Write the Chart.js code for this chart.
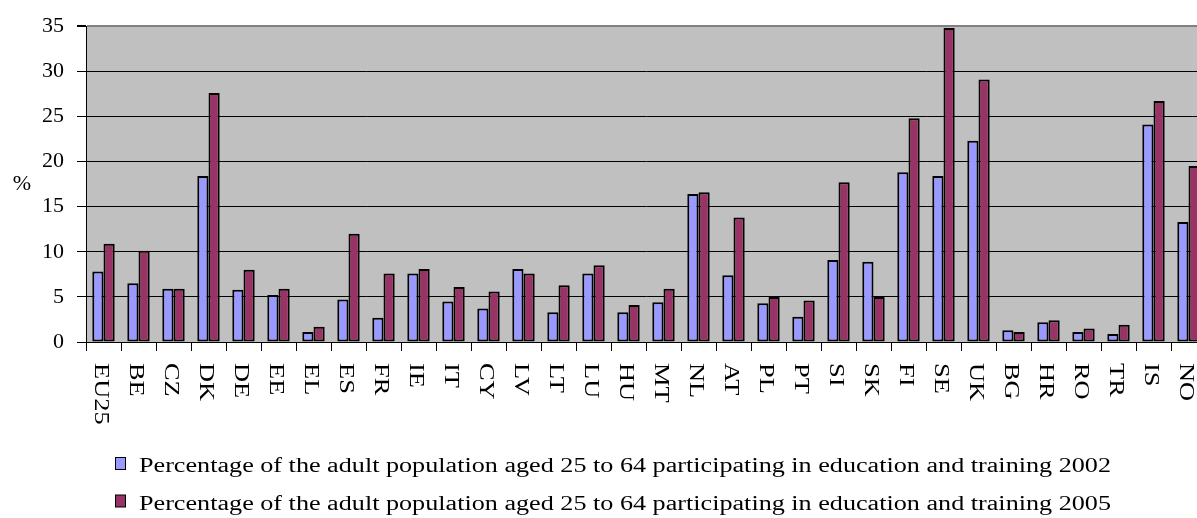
<!DOCTYPE html>
<html>
<head>
<meta charset="utf-8">
<title>Adult participation in education and training</title>
<script src="https://cdn.jsdelivr.net/npm/chart.js@4.4.1/dist/chart.umd.min.js"></script>
<style>
  html, body { margin: 0; padding: 0; background: #ffffff; overflow: hidden; }
  #wrap { position: relative; width: 1210px; height: 518px; }
</style>
</head>
<body>
<div id="wrap"><canvas id="chart"></canvas></div>
<script>
// Country codes along the category axis
const categories = ['EU25', 'BE', 'CZ', 'DK', 'DE', 'EE', 'EL', 'ES', 'FR', 'IE', 'IT', 'CY', 'LV', 'LT', 'LU',
  'HU', 'MT', 'NL', 'AT', 'PL', 'PT', 'SI', 'SK', 'FI', 'SE', 'UK', 'BG', 'HR', 'RO', 'TR', 'IS', 'NO'];

// Share of adults (25-64) in education and training, %
const values2002 = [7.8, 6.5, 5.9, 18.4, 5.8, 5.2, 1.1, 4.7, 2.7, 7.6, 4.5, 3.7, 8.1, 3.3, 7.6,
  3.3, 4.4, 16.4, 7.4, 4.3, 2.8, 9.1, 8.9, 18.8, 18.4, 22.3, 1.3, 2.2, 1.1, 0.9, 24.1, 13.3];
const values2005 = [10.9, 10.1, 5.9, 27.6, 8.0, 5.9, 1.7, 12.0, 7.6, 8.1, 6.1, 5.6, 7.6, 6.3, 8.5,
  4.1, 5.9, 16.6, 13.8, 5.0, 4.6, 17.7, 5.0, 24.8, 34.8, 29.1, 1.1, 2.4, 1.5, 1.9, 26.7, 19.5];

const yTicks = [0, 5, 10, 15, 20, 25, 30, 35];
const seriesNames = [
  'Percentage of the adult population aged 25 to 64 participating in education and training 2002',
  'Percentage of the adult population aged 25 to 64 participating in education and training 2005'
];
const yAxisLabel = '%';

const SERIF = '"Liberation Serif", serif';
const COLOR_2002 = '#9999ff';
const COLOR_2005 = '#993366';

// Grey plot area behind the grid and bars
const plotBackground = {
  id: 'plotBackground',
  beforeDraw(chart) {
    const { ctx, chartArea: a } = chart;
    ctx.save();
    ctx.fillStyle = '#c0c0c0';
    ctx.fillRect(a.left, a.top, a.right - a.left, a.bottom - a.top);
    ctx.restore();
  }
};

// Category names rotated to read top-to-bottom, plus the unrotated "%" axis label
const axisTexts = {
  id: 'axisTexts',
  afterDraw(chart) {
    const { ctx } = chart;
    const x = chart.scales.x;
    const y = chart.scales.y;
    ctx.save();
    ctx.fillStyle = '#000';
    ctx.font = '22px ' + SERIF;
    ctx.textAlign = 'left';
    ctx.textBaseline = 'alphabetic';
    const capH = 14.5;
    categories.forEach((name, i) => {
      const cx = x.getPixelForValue(i) - 1.5;
      ctx.save();
      ctx.translate(cx - capH / 2, x.top + 21);
      ctx.rotate(Math.PI / 2);
      ctx.scale(1.2, 1);
      ctx.fillText(name, 0, 0);
      ctx.restore();
    });

    ctx.textAlign = 'center';
    ctx.textBaseline = 'middle';
    ctx.fillText(yAxisLabel, 22, (y.top + y.bottom) / 2);
    ctx.restore();
  }
};

// Two-row legend below the axis labels
const legendBlock = {
  id: 'legendBlock',
  afterDraw(chart) {
    const { ctx } = chart;
    ctx.save();
    ctx.font = '20px ' + SERIF;
    ctx.textAlign = 'left';
    ctx.textBaseline = 'alphabetic';
    chart.data.datasets.forEach((ds, i) => {
      const baseline = 472 + i * 37.5;
      ctx.fillStyle = ds.backgroundColor;
      ctx.fillRect(115.5, baseline - 14.5, 10, 12);
      ctx.strokeStyle = '#000';
      ctx.lineWidth = 1;
      ctx.strokeRect(115.5, baseline - 14.5, 10, 12);
      const w = ctx.measureText(ds.label).width;
      ctx.save();
      ctx.translate(139, baseline);
      ctx.scale(972 / w, 1);
      ctx.fillStyle = '#000';
      ctx.fillText(ds.label, 0, 0);
      ctx.restore();
    });
    ctx.restore();
  }
};

function build() {
  new Chart(document.getElementById('chart'), {
    type: 'bar',
    data: {
      labels: categories,
      datasets: [
        {
          label: seriesNames[0],
          data: values2002,
          backgroundColor: COLOR_2002,
          borderColor: '#000',
          borderWidth: 2,
          borderSkipped: false,
          categoryPercentage: 0.64,
          barPercentage: 1
        },
        {
          label: seriesNames[1],
          data: values2005,
          backgroundColor: COLOR_2005,
          borderColor: '#000',
          borderWidth: 2,
          borderSkipped: false,
          categoryPercentage: 0.64,
          barPercentage: 1
        }
      ]
    },
    options: {
      responsive: true,
      maintainAspectRatio: false,
      animation: false,
      layout: { padding: { top: 23, right: 4, bottom: 0, left: 0 } },
      plugins: {
        legend: { display: false },
        tooltip: { enabled: false }
      },
      scales: {
        x: {
          grid: {
            display: true,
            drawOnChartArea: false,
            drawTicks: true,
            tickLength: 9,
            color: '#000',
            offset: true
          },
          border: { display: true, color: '#000', width: 1 },
          ticks: { display: false },
          afterFit(scale) { scale.height = 176; }
        },
        y: {
          min: 0,
          max: 35,
          afterBuildTicks(scale) { scale.ticks = yTicks.map(v => ({ value: v })); },
          grid: {
            color: c => (c.tick && c.tick.value === 35 ? '#808080' : '#000'),
            lineWidth: c => (c.tick && c.tick.value === 35 ? 2 : 1),
            tickColor: '#000',
            tickLength: 9,
            drawTicks: true
          },
          border: { display: true, color: '#000', width: 1 },
          ticks: {
            font: { family: SERIF, size: 22 },
            color: '#000',
            padding: 13
          },
          afterFit(scale) { scale.width = 86; }
        }
      }
    },
    plugins: [plotBackground, axisTexts, legendBlock]
  });
}

Promise.all([
  document.fonts.load('22px "Liberation Serif"'),
  document.fonts.load('20px "Liberation Serif"')
]).catch(() => {}).then(build);
</script>
</body>
</html>
